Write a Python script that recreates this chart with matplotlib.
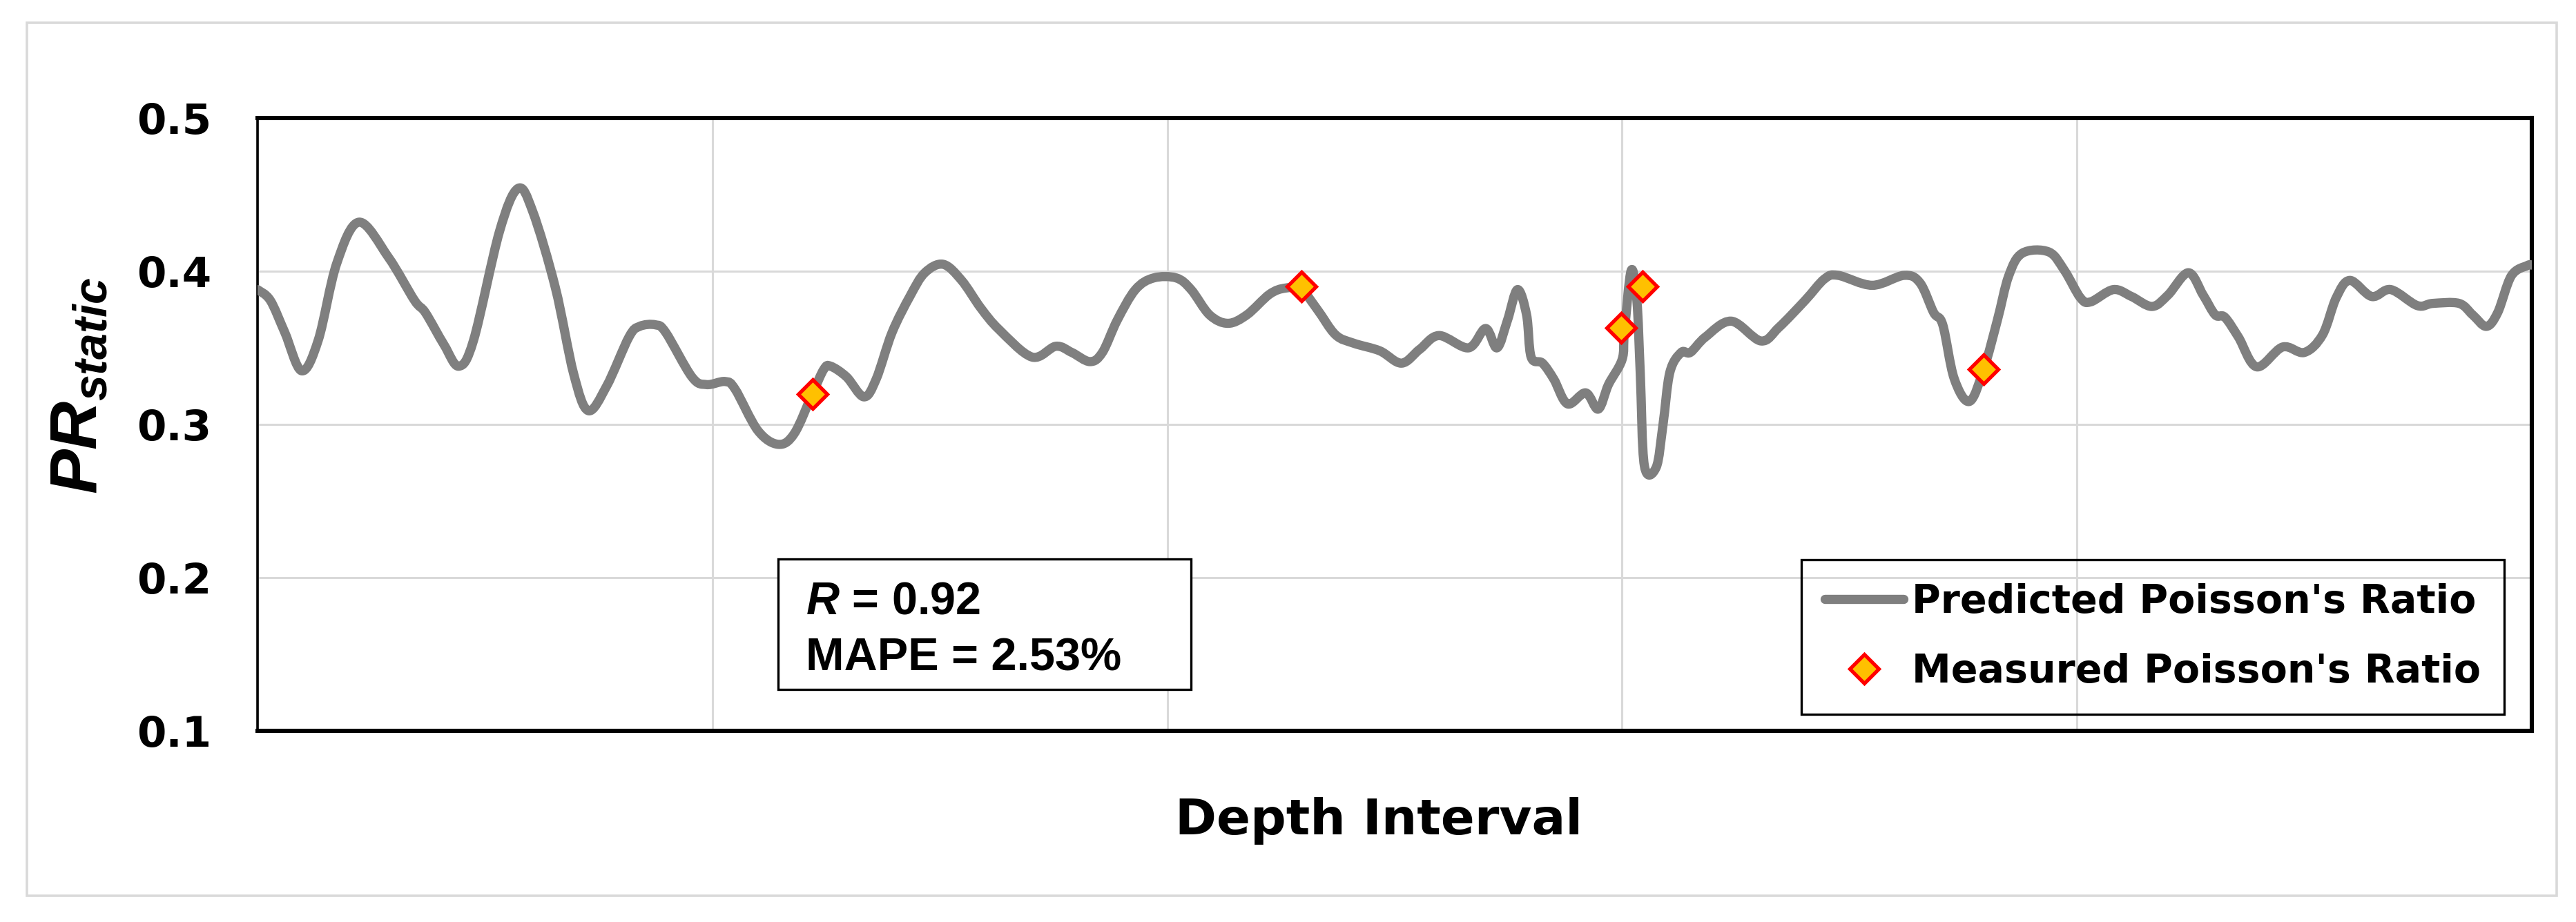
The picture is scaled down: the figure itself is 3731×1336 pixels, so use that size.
import matplotlib
matplotlib.use("Agg")
import matplotlib.pyplot as plt
from matplotlib.patches import Rectangle, PathPatch
from matplotlib.path import Path
from matplotlib.lines import Line2D

# ---- data ----
depth = [0.0, 0.56, 1.2, 1.94, 2.67, 3.48, 4.46, 5.76, 6.9, 7.38, 8.2, 8.85, 9.5,
         10.64, 11.45, 12.1, 13.1, 13.9, 14.54, 15.35, 16.33, 16.8, 17.5, 17.95,
         19.1, 19.74, 20.56, 21.0, 22.0, 22.9, 23.6, 24.4, 24.9, 25.2, 25.9, 26.66,
         27.2, 27.9, 28.7, 29.34, 30.15, 30.96, 31.8, 32.6, 34.05, 35.1, 35.8, 36.6,
         37.15, 37.8, 38.6, 39.4, 40.4, 41.05, 41.86, 42.67, 43.5, 44.5, 45.2, 45.9,
         46.6, 47.4, 48.2, 49.35, 50.3, 51.1, 51.95, 53.25, 54.0, 54.5, 54.96, 55.4,
         55.8, 56.0, 56.5, 57.0, 57.6, 58.4, 58.95, 59.4, 60.0, 60.1, 60.4, 60.65,
         60.8, 60.98, 61.5, 61.8, 62.1, 62.6, 63.0, 63.66, 64.8, 66.1, 66.9, 68.05,
         68.9, 69.5, 71.0, 72.4, 73.1, 73.7, 74.1, 74.6, 75.27, 75.9, 76.5, 77.0,
         77.6, 78.76, 79.45, 80.15, 80.6, 81.6, 82.4, 83.3, 84.0, 84.9, 85.55, 86.08,
         86.5, 87.1, 87.9, 89.04, 90.0, 90.8, 91.4, 92.0, 92.96, 93.8, 94.96, 95.65,
         96.8, 97.4, 98.0, 98.5, 99.1, 99.8, 100.0]
pr_pred = [0.388, 0.381, 0.360, 0.335, 0.355, 0.405, 0.432, 0.409, 0.381, 0.373, 0.352,
           0.338, 0.355, 0.426, 0.454, 0.439, 0.389, 0.333, 0.309, 0.325, 0.357, 0.364,
           0.365, 0.360, 0.331, 0.326, 0.328, 0.323, 0.296, 0.287, 0.294, 0.320, 0.336,
           0.338, 0.331, 0.318, 0.3295, 0.360, 0.384, 0.399, 0.4045, 0.394, 0.376, 0.362,
           0.344, 0.351, 0.347, 0.341, 0.347, 0.368, 0.388, 0.3956, 0.3956, 0.388,
           0.3715, 0.366, 0.3715, 0.385, 0.389, 0.388, 0.375, 0.3585, 0.353, 0.348,
           0.340, 0.349, 0.358, 0.350, 0.3626, 0.350, 0.368, 0.388, 0.3715, 0.344,
           0.340, 0.3295, 0.3134, 0.3206, 0.310, 0.326, 0.3424, 0.360, 0.4005, 0.381,
           0.333, 0.273, 0.272, 0.300, 0.334, 0.347, 0.347, 0.357, 0.3674, 0.3545,
           0.3634, 0.381, 0.395, 0.3973, 0.3908, 0.3973, 0.3924, 0.373, 0.365, 0.330,
           0.315, 0.336, 0.368, 0.397, 0.4118, 0.4126, 0.4005, 0.3827, 0.380, 0.388,
           0.3835, 0.377, 0.3844, 0.399, 0.3844, 0.3715, 0.370, 0.357, 0.3376, 0.3505,
           0.347, 0.3585, 0.3827, 0.394, 0.3835, 0.388, 0.3776, 0.379, 0.379, 0.3715,
           0.364, 0.373, 0.397, 0.4037, 0.404]
meas_depth = [24.4, 45.9, 59.97, 60.9, 75.9]
pr_meas = [0.320, 0.390, 0.363, 0.390, 0.336]

y_ticks = [0.1, 0.2, 0.3, 0.4, 0.5]
y_tick_labels = ["0.1", "0.2", "0.3", "0.4", "0.5"]
x_grid = [0, 20, 40, 60, 80, 100]

LINE_COLOR = "#7F7F7F"

# ---- figure ----
W, H, DPI = 3731, 1336, 200
fig = plt.figure(figsize=(W / DPI, H / DPI), dpi=DPI)
plt.rcParams['mathtext.fontset'] = 'custom'
plt.rcParams['mathtext.it'] = 'Liberation Sans:bold:italic'
plt.rcParams['mathtext.rm'] = 'Liberation Sans:bold'

def fx(px):
    return px / W

def fy(py):
    return 1 - py / H

# outer light-grey frame
fig.patches.append(Rectangle((fx(39), fy(1298)), fx(3703) - fx(39), fy(33) - fy(1298),
                             transform=fig.transFigure, fill=False,
                             edgecolor="#D9D9D9", linewidth=1.3))

L, R, T, B = 373, 3667, 171, 1059
ax = fig.add_axes([fx(L), fy(B), fx(R) - fx(L), fy(T) - fy(B)])

# smoothed line (Excel-style smooth line) through the data points
pts = list(zip(depth, pr_pred))
verts = [pts[0]]
codes = [Path.MOVETO]
n = len(pts)
for i in range(n - 1):
    p0 = pts[i - 1] if i > 0 else pts[i]
    p1 = pts[i]
    p2 = pts[i + 1]
    p3 = pts[i + 2] if i + 2 < n else pts[i + 1]
    c1 = (p1[0] + (p2[0] - p0[0]) / 6.0, p1[1] + (p2[1] - p0[1]) / 6.0)
    c2 = (p2[0] - (p3[0] - p1[0]) / 6.0, p2[1] - (p3[1] - p1[1]) / 6.0)
    verts += [c1, c2, p2]
    codes += [Path.CURVE4] * 3
curve = PathPatch(Path(verts, codes), facecolor="none", edgecolor=LINE_COLOR,
                  linewidth=4.8, capstyle="round", joinstyle="round", zorder=3)
ax.add_patch(curve)

meas = ax.plot(meas_depth, pr_meas, linestyle="none", marker="D", markersize=10.5,
               markerfacecolor="#FFC000", markeredgecolor="#FF0000",
               markeredgewidth=1.9, label="Measured Poisson's Ratio", zorder=4)[0]
pred_handle = Line2D([], [], color=LINE_COLOR, linewidth=4.8, solid_capstyle="round",
                     label="Predicted Poisson's Ratio")

ax.set_xlim(0, 100)
ax.set_ylim(0.1, 0.5)
ax.set_yticks(y_ticks)
ax.set_yticklabels(y_tick_labels, fontfamily="DejaVu Sans", fontweight="bold",
                   fontsize=22)
ax.set_xticks(x_grid)
ax.set_xticklabels([])
ax.tick_params(axis="both", length=0)
ax.tick_params(axis="y", pad=24)
ax.grid(True, color="#D9D9D9", linewidth=1.1, zorder=0)
ax.set_axisbelow(True)
for s in ax.spines.values():
    s.set_linewidth(2.2)
    s.set_color("black")
ax.spines["left"].set_linewidth(1.3)

# axis labels
fig.text(fx(114), fy(559), r"$PR_{static}$", rotation=90, ha="center", va="center",
         fontsize=35)
fig.text(fx(1997), fy(1190), "Depth Interval", ha="center", va="center",
         fontfamily="DejaVu Sans", fontweight="bold", fontsize=26)

# stats box
box = Rectangle((fx(1127), fy(999)), fx(1725) - fx(1127), fy(810) - fy(999),
                transform=fig.transFigure, facecolor="white", edgecolor="black",
                linewidth=1.2, zorder=5)
fig.patches.append(box)
fig.text(fx(1167), fy(890), r"$R$ = 0.92", ha="left", va="baseline",
         fontfamily="Liberation Sans", fontweight="bold", fontsize=24, zorder=6)
fig.text(fx(1167), fy(972), "MAPE = 2.53%", ha="left", va="baseline",
         fontfamily="Liberation Sans", fontweight="bold", fontsize=24, zorder=6)

# legend
leg = ax.legend(handles=[pred_handle, meas], loc="lower right",
                bbox_to_anchor=((3627 - L) / (R - L), (B - 1035) / (B - T)),
                prop={"family": "DejaVu Sans", "weight": "bold", "size": 20.5},
                frameon=True, fancybox=False, edgecolor="black", facecolor="none",
                framealpha=1, handlelength=2.0, handletextpad=0.2,
                labelspacing=0.8, borderpad=0.6, borderaxespad=0)
leg.get_frame().set_linewidth(1.2)

fig.savefig("out.png", dpi=DPI, facecolor="white")
